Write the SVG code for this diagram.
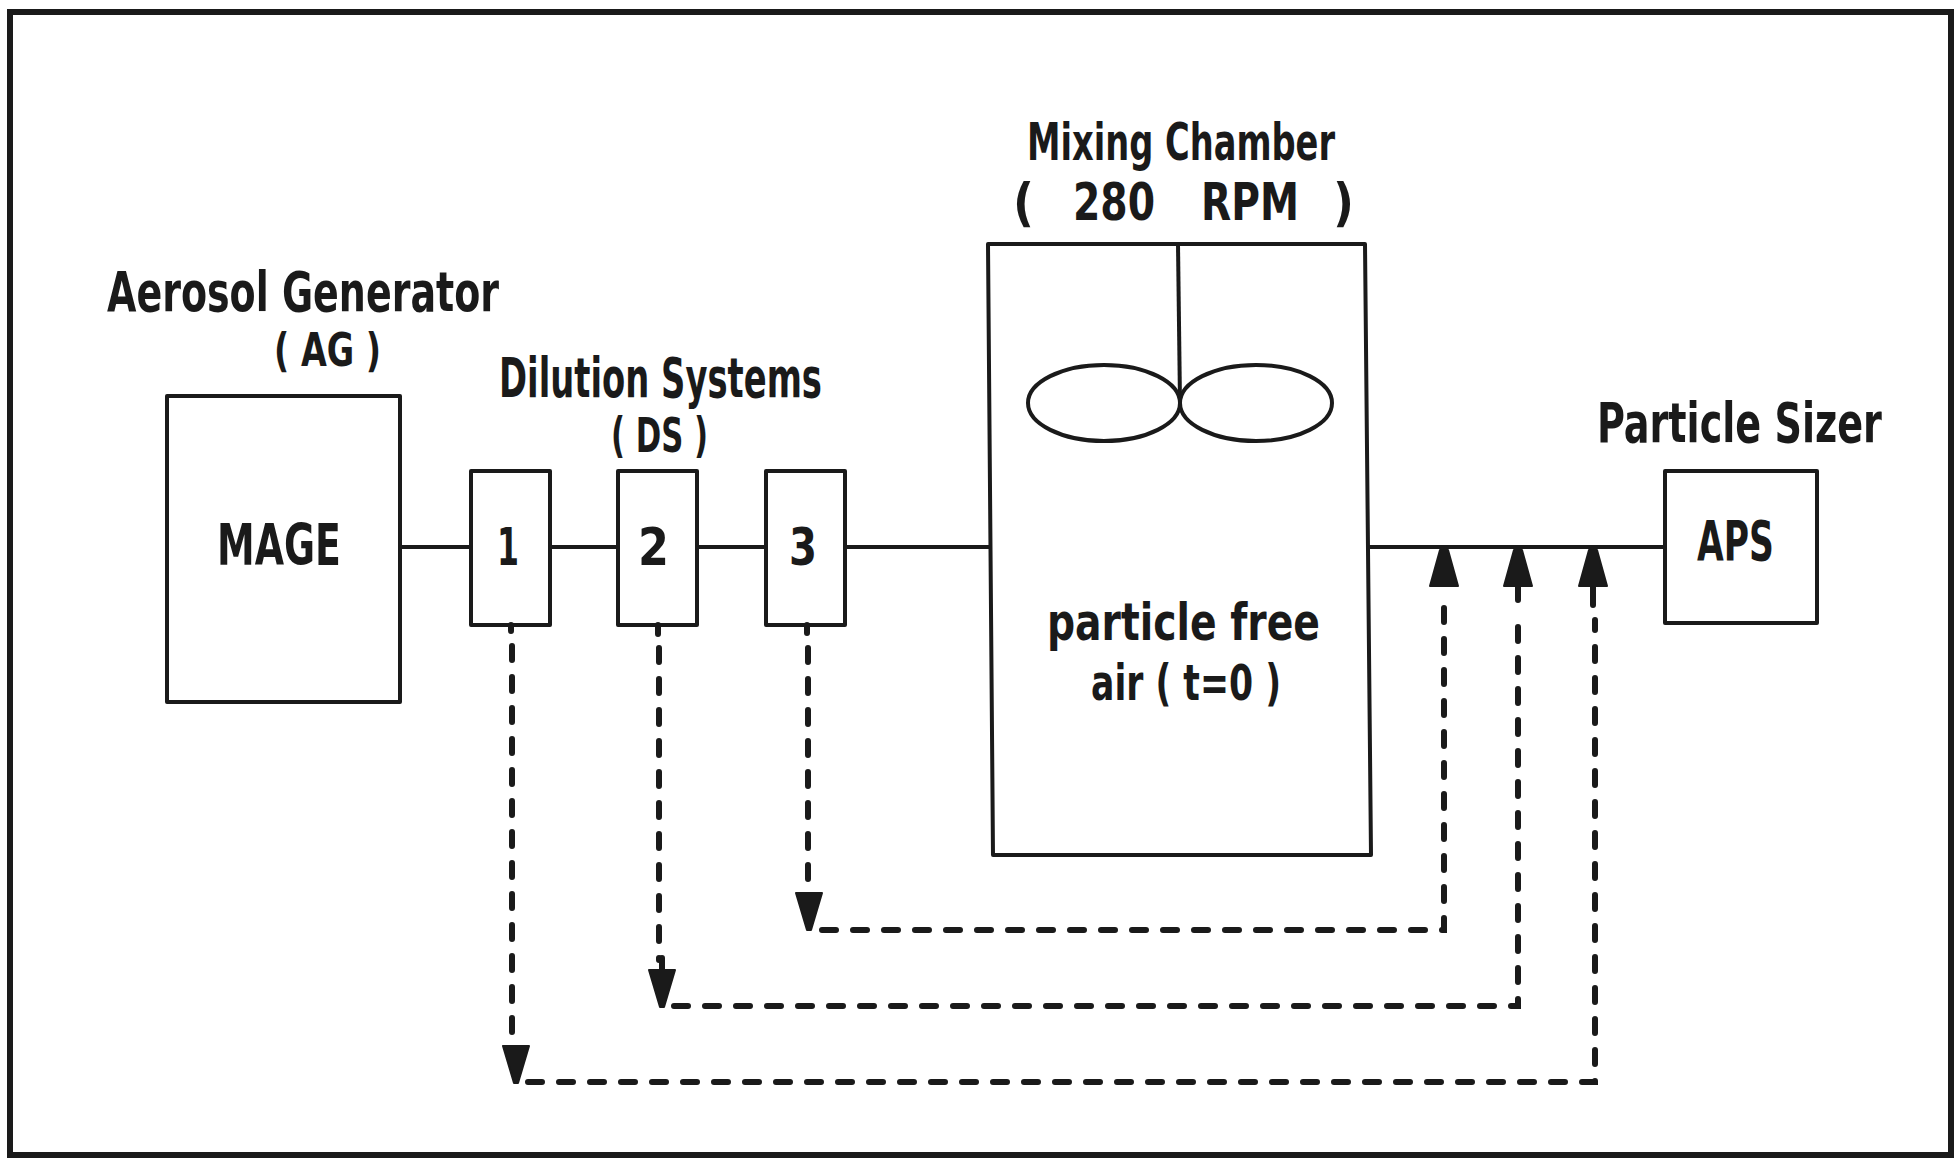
<svg xmlns="http://www.w3.org/2000/svg" xmlns:xlink="http://www.w3.org/1999/xlink" width="1955" height="1165" viewBox="0 0 1955 1165">
<style>
.box{fill:none;stroke:#1a1a1a;stroke-width:4;stroke-linejoin:round}
.line{fill:none;stroke:#1a1a1a;stroke-width:4}
.dash{fill:none;stroke:#1a1a1a;stroke-width:6;stroke-dasharray:14 17;stroke-linecap:round}
.stub{fill:none;stroke:#1a1a1a;stroke-width:6;stroke-linecap:round}
.head{fill:#1a1a1a;stroke:#1a1a1a;stroke-width:2;stroke-linejoin:round}
text{font-family:"DejaVu Sans Condensed","DejaVu Sans",sans-serif;font-weight:bold;fill:#1a1a1a}
</style>
<defs>
<path id="upHead" d="M-4,0 L4,0 L14,36 L-14,36 Z"/>
<path id="downHead" d="M-13,0 L13,0 L2,37 L-2,37 Z"/>
</defs>
<rect width="1955" height="1165" fill="#ffffff"/>
<rect id="frame" x="10" y="12" width="1941" height="1143" fill="none" stroke="#1a1a1a" stroke-width="6"/>

<g id="aerosol-generator">
<text x="107" y="311" font-size="55" textLength="392" lengthAdjust="spacingAndGlyphs">Aerosol Generator</text>
<text x="274" y="366" font-size="46" textLength="107" lengthAdjust="spacingAndGlyphs">( AG )</text>
<rect class="box" x="167" y="396" width="233" height="306"/>
<text x="217" y="565" font-size="57" textLength="124" lengthAdjust="spacingAndGlyphs">MAGE</text>
</g>

<g id="dilution-systems">
<text x="499" y="397" font-size="55" textLength="323" lengthAdjust="spacingAndGlyphs">Dilution Systems</text>
<text x="611" y="452" font-size="48" textLength="97" lengthAdjust="spacingAndGlyphs">( DS )</text>
</g>
<g id="ds1">
<rect class="box" x="471" y="471" width="79" height="154"/>
<text x="497" y="565" font-size="51" textLength="22" lengthAdjust="spacingAndGlyphs">1</text>
</g>
<g id="ds2">
<rect class="box" x="618" y="471" width="79" height="154"/>
<text x="638" y="565" font-size="51" textLength="31" lengthAdjust="spacingAndGlyphs">2</text>
</g>
<g id="ds3">
<rect class="box" x="766" y="471" width="79" height="154"/>
<text x="789" y="565" font-size="51" textLength="28" lengthAdjust="spacingAndGlyphs">3</text>
</g>

<g id="mixing-chamber">
<text x="1027" y="160" font-size="52" textLength="308" lengthAdjust="spacingAndGlyphs">Mixing Chamber</text>
<text y="220" font-size="51"><tspan x="1013">(</tspan><tspan x="1073" textLength="82" lengthAdjust="spacingAndGlyphs">280</tspan><tspan x="1201" textLength="98" lengthAdjust="spacingAndGlyphs">RPM</tspan><tspan x="1333">)</tspan></text>
<path class="box" d="M988,244 L1365,244 L1371,855 L993,855 Z"/>
<path class="line" d="M1178,244 L1180,403"/>
<ellipse class="box" cx="1104" cy="403" rx="76" ry="38"/>
<ellipse class="box" cx="1256" cy="403" rx="76" ry="38"/>
<text x="1047" y="640" font-size="52" textLength="273" lengthAdjust="spacingAndGlyphs">particle free</text>
<text x="1091" y="700" font-size="50" textLength="190" lengthAdjust="spacingAndGlyphs">air ( t=0 )</text>
</g>

<g id="particle-sizer">
<text transform="translate(1597,442) scale(0.77,1)" x="0" y="0" font-size="55" textLength="370" lengthAdjust="spacingAndGlyphs">Particle Sizer</text>
<rect class="box" x="1665" y="471" width="152" height="152"/>
<text x="1697" y="560" font-size="55" textLength="77" lengthAdjust="spacingAndGlyphs">APS</text>
</g>

<g id="connectors">
<path class="line" d="M400,547 H471 M550,547 H618 M697,547 H766 M845,547 H990 M1368,547 H1665"/>
<path class="stub" d="M511,625 V631 M658,625 V634 M807,625 V633"/>
<path class="dash" d="M512,646 V1040"/>
<path class="dash" d="M659,648 V960"/>
<path class="dash" d="M808,648 V885"/>
<path class="stub" d="M662,958 V972 M1518,586 V600 M1593,586 V605"/>
<use xlink:href="#downHead" class="head" x="809" y="893"/>
<use xlink:href="#downHead" class="head" x="662" y="970"/>
<use xlink:href="#downHead" class="head" x="516" y="1046"/>
<path class="dash" d="M822,930 H1444 V598"/>
<path class="dash" d="M674,1006 H1518 V616"/>
<path class="dash" d="M528,1082 H1595 V620"/>
<use xlink:href="#upHead" class="head" x="1444" y="550"/>
<use xlink:href="#upHead" class="head" x="1518" y="550"/>
<use xlink:href="#upHead" class="head" x="1593" y="550"/>
</g>
</svg>
